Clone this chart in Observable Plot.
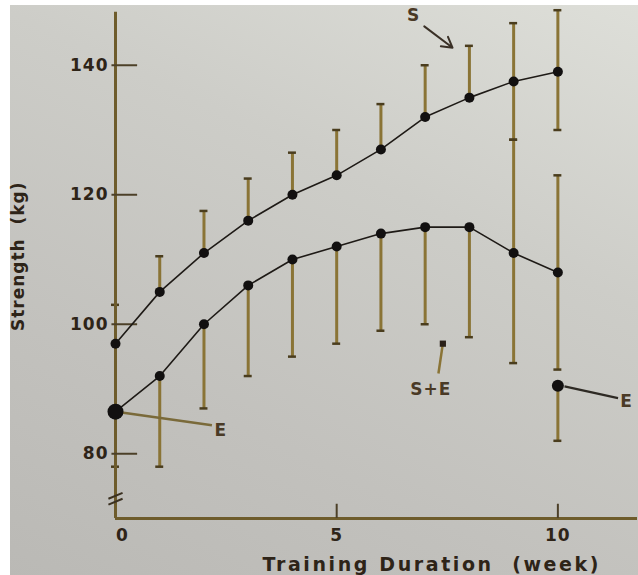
<!DOCTYPE html>
<html>
<head>
<meta charset="utf-8">
<script src="https://cdn.jsdelivr.net/npm/d3@7"></script>
<script src="https://cdn.jsdelivr.net/npm/@observablehq/plot@0.6"></script>
<style>
  html, body { margin: 0; padding: 0; background: #ffffff; }
  #chart {
    width: 638px; height: 575px; position: relative; overflow: hidden;
    background:
      linear-gradient(to right, #ffffff 10px, rgba(255,255,255,0) 10px),
      linear-gradient(to bottom, #ffffff 5px, rgba(255,255,255,0) 5px),
      linear-gradient(205deg, #dedfd9 0%, #cdcdc8 35%, #c2c1bd 70%, #bab9b5 100%);
  }
  #chart svg { display: block; }
</style>
</head>
<body>
<div id="chart"></div>
<script>
// ---- data ----
const weeks = [0, 1, 2, 3, 4, 5, 6, 7, 8, 9, 10];
// S (strength training)
const sMean = [97, 105, 111, 116, 120, 123, 127, 132, 135, 137.5, 139];
const sHigh = [103, 110.5, 117.5, 122.5, 126.5, 130, 134, 140, 143, 146.5, 148.5];
const sLow  = [null, null, null, null, null, null, null, null, null, 128.5, 130];
// S+E (strength + endurance training)
const seMean = [86.5, 92, 100, 106, 110, 112, 114, 115, 115, 111, 108];
const seLow  = [78, 78, 87, 92, 95, 97, 99, 100, 98, 94, 93];
const seHigh = [null, null, null, null, null, null, null, null, null, 128.5, 123];
// E (endurance training)
const eWeeks = [0, 10];
const eMean  = [86.5, 90.5];
const eLow   = [null, 82];
// axes
const yTicks = [80, 100, 120, 140];
const xTicks = [5, 10];
const xLabel = "Training Duration  (week)";
const yLabel = "Strength  (kg)";

// ---- tables ----
const S  = weeks.map((w, i) => ({w, m: sMean[i], hi: sHigh[i], lo: sLow[i]}));
const SE = weeks.map((w, i) => ({w, m: seMean[i], hi: seHigh[i], lo: seLow[i]}));
const E  = eWeeks.map((w, i) => ({w, m: eMean[i], hi: null, lo: eLow[i]}));
const all = [...S, ...SE, ...E];

const ups = all.filter(d => d.hi != null);
const downs = all.filter(d => d.lo != null);
const caps = [...ups.map(d => ({w: d.w, y: d.hi})), ...downs.map(d => ({w: d.w, y: d.lo}))];

const barColor = "#8a7436";
const axisColor = "#6e5c2c";
const ink = "#2e2418";
const capHalf = 0.09;

// annotation pointers
const notes = [
  {label: "S",   lx: 6.74, ly: 147.7, x1: 6.98, y1: 146.0, x2: 7.62, y2: 142.7, kind: "arrow"},
  {label: "S+E", lx: 7.13, ly: 89.9,  x1: 7.30, y1: 92.4,  x2: 7.40, y2: 97.0,  kind: "dotline"},
  {label: "E",   lx: 2.38, ly: 83.6,  x1: 0.10, y1: 86.4,  x2: 2.18, y2: 84.4,  kind: "line"},
  {label: "E",   lx: 11.55, ly: 88.1, x1: 10.15, y1: 90.4, x2: 11.36, y2: 88.6, kind: "line2"}
];
const breakMarks = [{y: 72.6}, {y: 73.5}];

const chart = Plot.plot({
  width: 638,
  height: 575,
  marginLeft: 115,
  marginRight: 1,
  marginTop: 0,
  marginBottom: 57,
  x: {domain: [0, 11.8]},
  y: {domain: [70, 150]},
  style: {fontFamily: "'DejaVu Sans', sans-serif", color: ink, background: "transparent", overflow: "visible"},
  marks: [
    // error bars
    Plot.ruleX(ups, {x: "w", y1: "m", y2: "hi", stroke: barColor, strokeWidth: 3}),
    Plot.ruleX(downs, {x: "w", y1: "lo", y2: "m", stroke: barColor, strokeWidth: 3}),
    Plot.ruleY(caps, {y: "y", x1: d => d.w - capHalf, x2: d => d.w + capHalf, stroke: "#4a3d1e", strokeWidth: 2.5}),
    // axes lines
    Plot.ruleX([0], {y1: 70, y2: 148.2, stroke: axisColor, strokeWidth: 3}),
    Plot.ruleY([70], {x1: 0, x2: 11.8, stroke: axisColor, strokeWidth: 3}),
    Plot.ruleY(yTicks, {x1: -0.08, x2: 0.5, stroke: "#4c4028", strokeWidth: 2}),
    Plot.ruleX(xTicks, {y1: 70, y2: 72.2, stroke: "#4c4028", strokeWidth: 2}),
    // axis break
    Plot.link(breakMarks, {x1: -0.16, x2: 0.16, y1: d => d.y - 0.45, y2: d => d.y + 0.45, stroke: "#3a3020", strokeWidth: 2}),
    // lines
    Plot.line(S, {x: "w", y: "m", stroke: "#1e1a16", strokeWidth: 1.6}),
    Plot.line(SE, {x: "w", y: "m", stroke: "#1e1a16", strokeWidth: 1.6}),
    // pointers
    Plot.arrow(notes.filter(d => d.kind === "arrow"), {x1: "x1", y1: "y1", x2: "x2", y2: "y2", stroke: "#3a3026", strokeWidth: 2, headLength: 9}),
    Plot.link(notes.filter(d => d.kind === "dotline"), {x1: "x1", y1: "y1", x2: "x2", y2: "y2", stroke: barColor, strokeWidth: 2.5}),
    Plot.dot(notes.filter(d => d.kind === "dotline"), {x: "x2", y: "y2", r: 3.5, fill: "#2a2018", symbol: "square"}),
    Plot.link(notes.filter(d => d.kind === "line"), {x1: "x1", y1: "y1", x2: "x2", y2: "y2", stroke: "#7a6a3a", strokeWidth: 2.5}),
    Plot.link(notes.filter(d => d.kind === "line2"), {x1: "x1", y1: "y1", x2: "x2", y2: "y2", stroke: "#2e2a24", strokeWidth: 2.2}),
    // points
    Plot.dot(S, {x: "w", y: "m", r: 5, fill: "#121010"}),
    Plot.dot(SE, {x: "w", y: "m", r: 5, fill: "#121010"}),
    Plot.dot(E.filter(d => d.w === 0), {x: "w", y: "m", r: 8, fill: "#121010"}),
    Plot.dot(E.filter(d => d.w !== 0), {x: "w", y: "m", r: 6, fill: "#121010"}),
    // annotation labels
    Plot.text(notes, {x: "lx", y: "ly", text: "label", fontSize: 17, fontWeight: "bold", fill: "#4a3a26"}),
    // axes text
    Plot.axisY({ticks: yTicks, tickSize: 0, tickPadding: 7, fontSize: 17, fontWeight: "bold", label: null}),
    Plot.axisX({ticks: xTicks, tickSize: 0, tickPadding: 10, fontSize: 17, fontWeight: "bold", label: null}),
    Plot.text([0], {x: d => d, y: 70, text: d => String(d), dx: 7, dy: 17, fontSize: 17, fontWeight: "bold"}),
    Plot.text([yLabel], {x: -2.2, y: 110.5, text: d => d, rotate: -90, fontSize: 17, fontWeight: "bold", className: "ylab"}),
    Plot.text([xLabel], {x: 7.15, y: 70, dy: 46, text: d => d, fontSize: 19, fontWeight: "bold", className: "xlab"})
  ]
});
d3.select(chart).selectAll("text").attr("letter-spacing", "1px");
d3.select(chart).selectAll(".xlab text").attr("letter-spacing", "2.6px");
document.getElementById("chart").appendChild(chart);
</script>
</body>
</html>
